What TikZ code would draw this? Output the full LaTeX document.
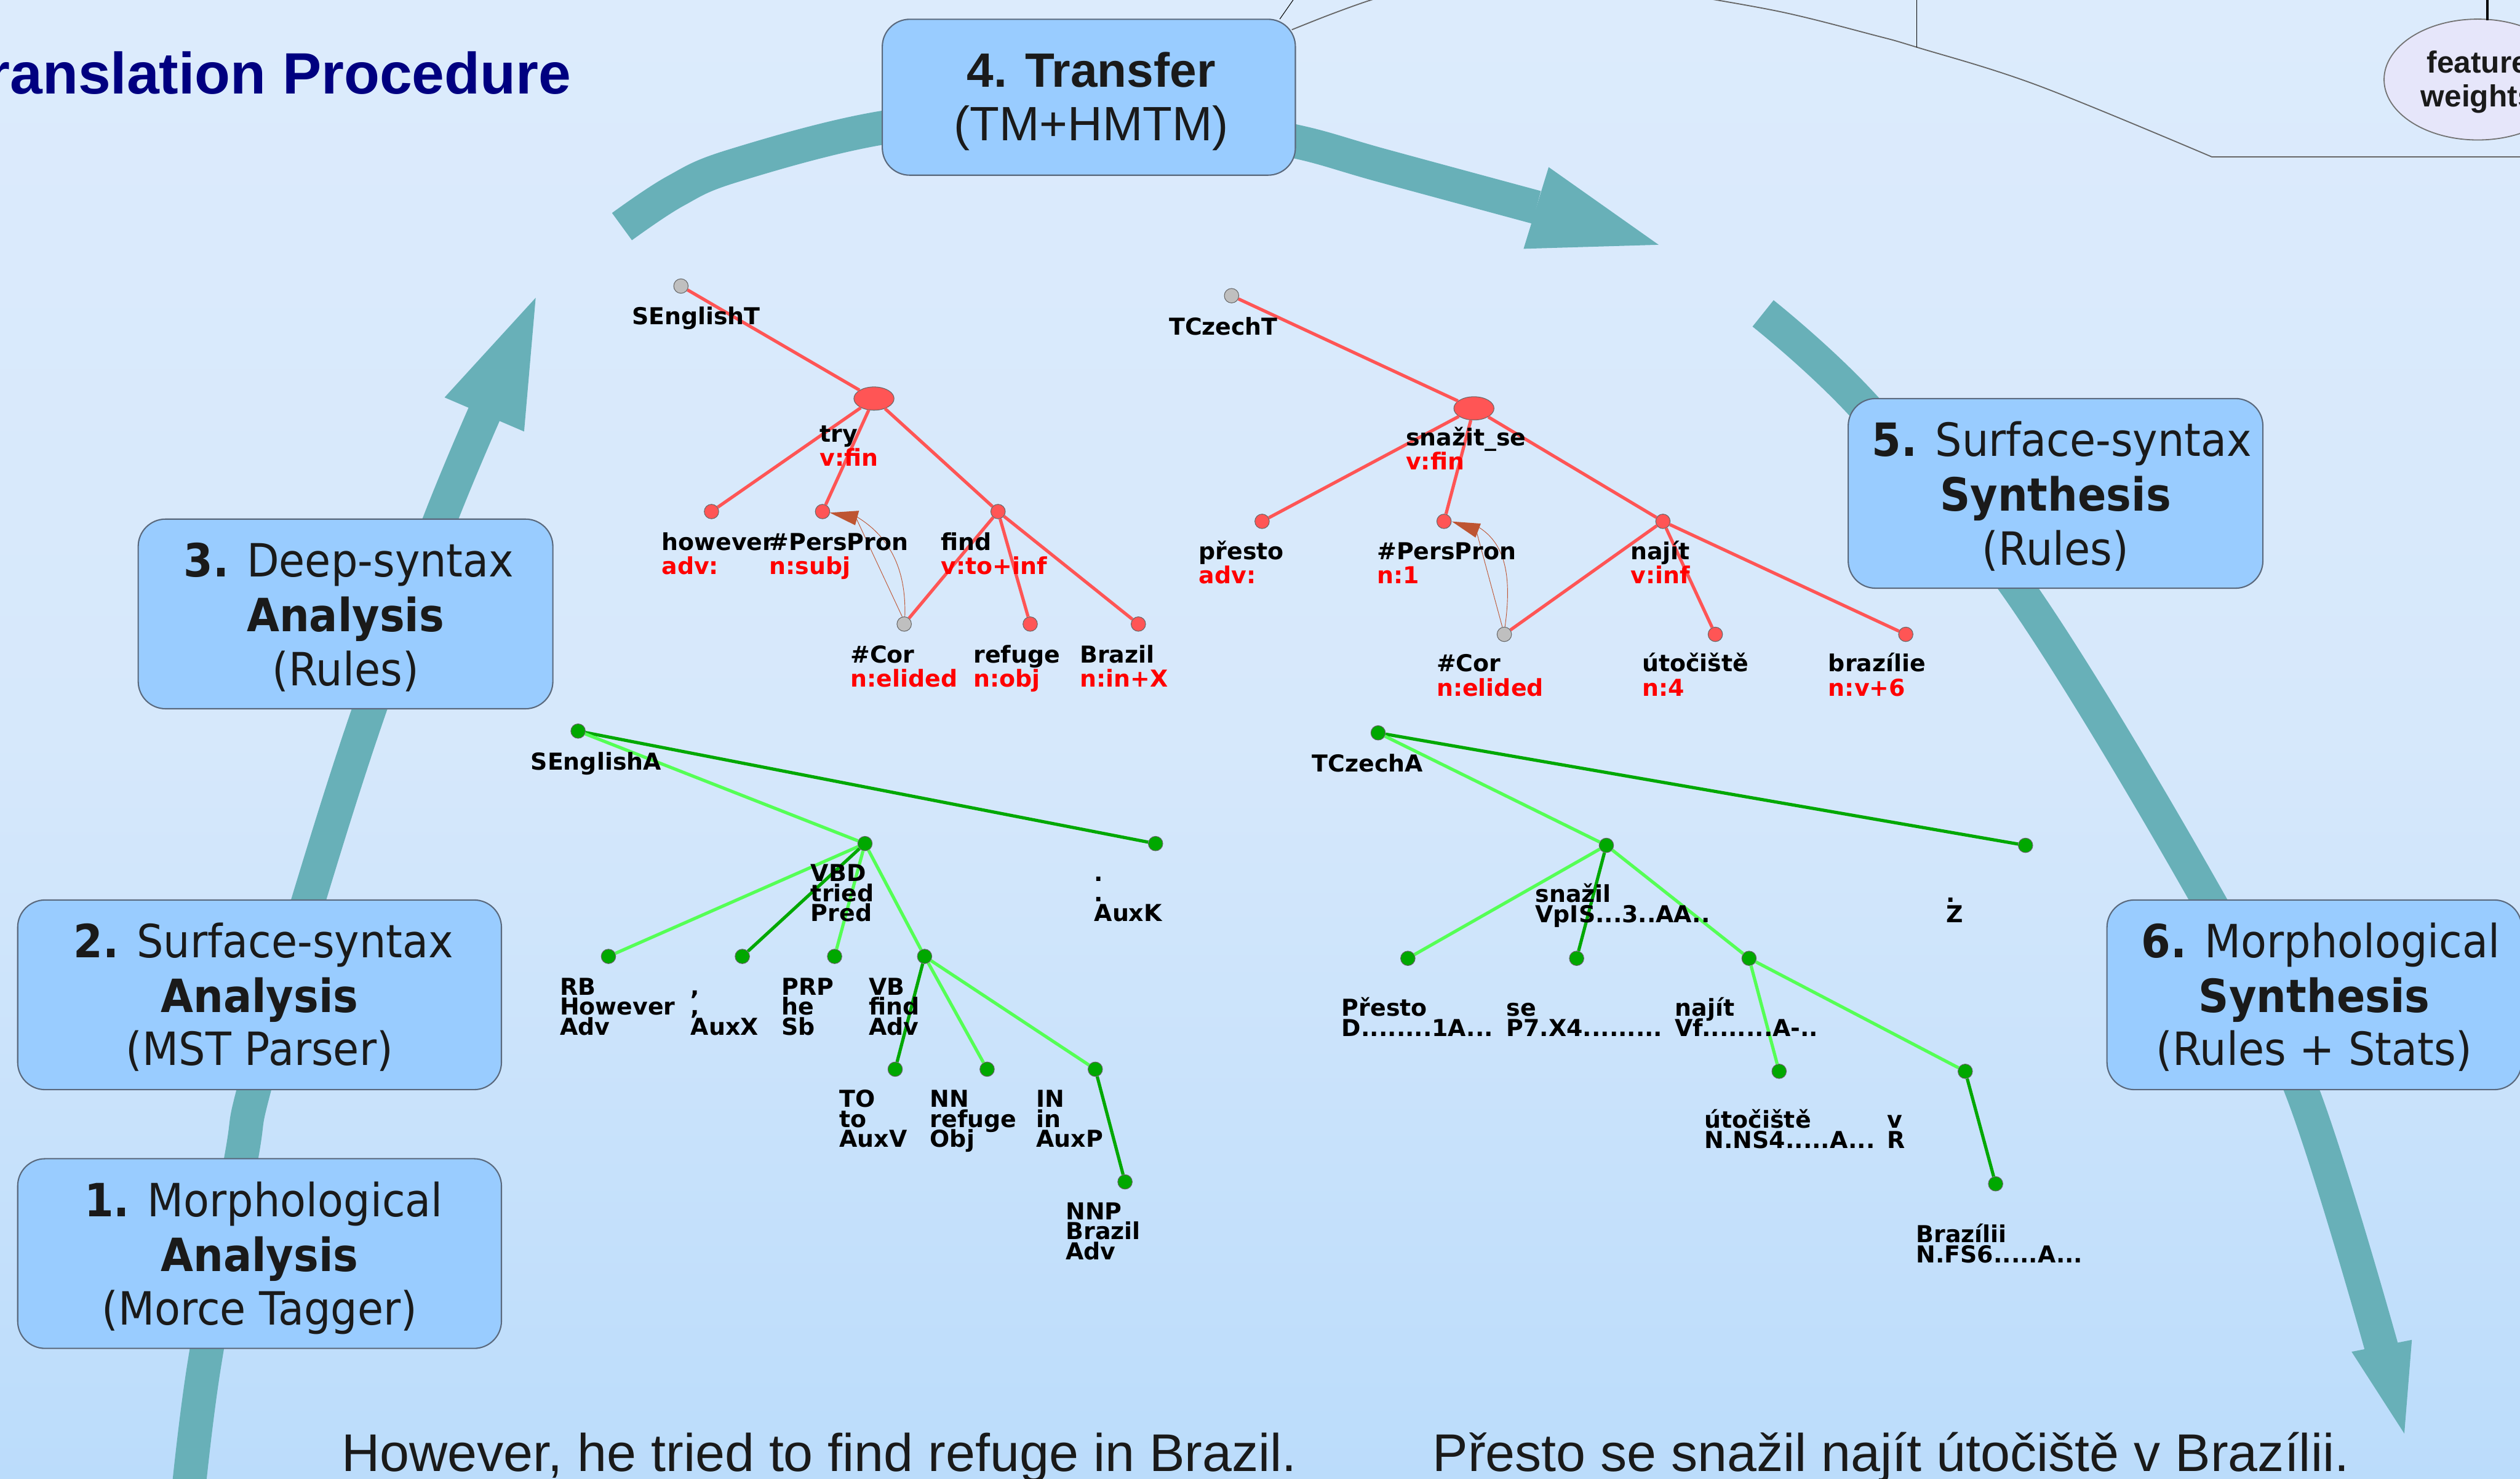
\documentclass[tikz,border=0pt]{standalone}
\usepackage{fontspec}
\usetikzlibrary{shapes.geometric}
\newfontfamily\treefont{DejaVu Sans}
\newfontfamily\boxfont[FakeStretch=0.92]{DejaVu Sans}
\newfontfamily\arialfont{Liberation Sans}
\definecolor{bgtop}{RGB}{220,235,252}
\definecolor{bgmid}{RGB}{214,232,251}
\definecolor{bgbot}{RGB}{187,220,251}
\definecolor{teal0}{RGB}{104,176,184}
\definecolor{boxfill}{RGB}{153,204,255}
\definecolor{boxline}{RGB}{90,105,125}
\definecolor{boxtext}{RGB}{26,26,26}
\definecolor{navy0}{RGB}{0,0,128}
\definecolor{tred}{RGB}{255,85,85}
\definecolor{lred}{RGB}{255,0,0}
\definecolor{dgreen}{RGB}{0,168,0}
\definecolor{lgreen}{RGB}{85,255,85}
\definecolor{corefc}{RGB}{190,85,50}
\definecolor{lavender0}{RGB}{230,230,250}
\newcommand\TLab[5]{\node[tlab] (#1a) at (#2,#3) {#4}; \node[tlabr] (#1b) at (#2,#3+15) {#5};}
\newcommand\ALab[6]{\node[alab] (#1a) at (#2,#3) {#4}; \node[alab] (#1b) at (#2,#3+12.4) {#5}; \node[alab] (#1c) at (#2,#3+24.8) {#6};}
\newcommand\CLab[5]{\node[alab] (#1a) at (#2,#3) {#4}; \node[alab] (#1b) at (#2,#3+12.6) {#5};}
\begin{document}
\begin{tikzpicture}[x=1pt,y=-1pt,
  boxshape/.style={draw=boxline, fill=boxfill, line width=0.8pt, rounded corners=17pt, inner sep=0pt},
  boxtxt/.style={anchor=base, inner sep=0pt, text=boxtext, font=\boxfont\fontsize{28.5pt}{34pt}\selectfont},
  arialtxt/.style={anchor=base, inner sep=0pt, text=boxtext, font=\arialfont\fontsize{30pt}{34pt}\selectfont},
  bigarrow/.style={draw=teal0, line width=21pt, line cap=butt},
  tdot/.style={circle, minimum size=9pt, inner sep=0pt, fill=tred, draw=black!60, line width=0.4pt},
  tgrey/.style={circle, minimum size=9pt, inner sep=0pt, fill=black!25, draw=black!60, line width=0.4pt},
  tellip/.style={ellipse, minimum width=25pt, minimum height=14.5pt, inner sep=0pt, fill=tred, draw=black!60, line width=0.4pt},
  adot/.style={circle, minimum size=9pt, inner sep=0pt, fill=dgreen, draw=black!60, line width=0.4pt},
  tedge/.style={draw=tred, line width=2pt},
  aedged/.style={draw=dgreen, line width=2pt},
  aedgel/.style={draw=lgreen, line width=2pt},
  coref/.style={draw=corefc, line width=0.35pt},
  tlab/.style={anchor=base west, inner sep=0pt, text=black, font=\treefont\bfseries\fontsize{14.5pt}{14.5pt}\selectfont},
  tlabr/.style={tlab, text=lred},
  alab/.style={tlab}
]
\useasboundingbox (0,0) rectangle (1568,920);
\clip (0,0) rectangle (1568,920);
\shade[top color=bgtop, bottom color=bgbot, middle color=bgmid] (0,0) rectangle (1568,920);

% ---- top right fragments ----
\draw[black!60, line width=0.7pt] plot[smooth, tension=0.6] coordinates {(803.8,18.5) (826.5,9.5) (850,1) (870,-5)};
\draw[black!60, line width=0.7pt] plot[smooth, tension=0.6] coordinates {(1050,-3) (1109.2,7.6) (1165.8,21.8) (1192.7,29.4) (1267.8,53.1) (1376.2,97.6)} -- (1570,97.6);
\draw[black, line width=0.4pt] (796.3,11.9) -- (805.3,-1);
\draw[black, line width=0.4pt] (1192.7,-1) -- (1192.7,29.4);
\node[ellipse, draw=black!55, fill=lavender0, line width=0.7pt, minimum width=116.6pt, minimum height=75.2pt, inner sep=0pt] (fw) at (1541.7,49.5) {};
\coordinate (fwa) at (1547.6,12.6);
\coordinate (fwb) at (1547.6,-2);
\draw[black, line width=1.6pt] (fwa) -- (fwb);
\node[anchor=base, inner sep=0pt, text=boxtext, font=\arialfont\bfseries\fontsize{19pt}{21pt}\selectfont] (fw1) at (1541.7,45.3) {feature};
\node[anchor=base, inner sep=0pt, text=boxtext, font=\arialfont\bfseries\fontsize{19pt}{21pt}\selectfont] (fw2) at (1541.7,66.4) {weights};

% ---- big teal arrows ----
\draw[bigarrow] plot[smooth, tension=0.6] coordinates {(116,940) (126.5,853) (150,721) (158,678) (192,560) (230,441) (274,323) (302,256)};
\fill[teal0] (276.6,247.3) -- (333.3,185.3) -- (326.1,268.5) -- cycle;
\draw[bigarrow] plot[smooth, tension=0.6] coordinates {(387,141) (420,119) (456.7,103) (549,79.5) (650,71) (740,77) (806,88) (860,103) (956,129)};
\fill[teal0] (963.6,104) -- (1032,152.3) -- (948,154.8) -- cycle;
\draw[bigarrow] plot[smooth, tension=0.6] coordinates {(1097,195) (1158,251) (1256,366.5) (1374,560) (1432,678) (1482,839)};
\fill[teal0] (1463.2,841.1) -- (1496,892) -- (1500.7,833.7) -- cycle;

% ---- boxes ----
\node[boxshape, minimum width=257pt, minimum height=97pt] (b4) at (677.5,60.5) {};
\node[arialtxt] (b4a) at (679,54) {\bfseries 4. Transfer};
\node[arialtxt] (b4b) at (679,87.6) {(TM+HMTM)};

\node[boxshape, minimum width=258pt, minimum height=118pt] (b3) at (215,382) {};
\node[boxtxt] (b3a) at (217,359) {\bfseries 3.\mdseries{} Deep-syntax};
\node[boxtxt] (b3b) at (215,393) {\bfseries Analysis};
\node[boxtxt] (b3c) at (215,426.5) {(Rules)};

\node[boxshape, minimum width=301pt, minimum height=118pt] (b2) at (161.5,619) {};
\node[boxtxt] (b2a) at (164,596) {\bfseries 2.\mdseries{} Surface-syntax};
\node[boxtxt] (b2b) at (161.5,630) {\bfseries Analysis};
\node[boxtxt] (b2c) at (161.5,663) {(MST Parser)};

\node[boxshape, minimum width=301pt, minimum height=118pt] (b1) at (161.5,780) {};
\node[boxtxt] (b1a) at (164,757) {\bfseries 1.\mdseries{} Morphological};
\node[boxtxt] (b1b) at (161.5,791) {\bfseries Analysis};
\node[boxtxt] (b1c) at (161.5,824.5) {(Morce Tagger)};

\node[boxshape, minimum width=258pt, minimum height=118pt] (b5) at (1279,307) {};
\node[boxtxt] (b5a) at (1283,284) {\bfseries 5.\mdseries{} Surface-syntax};
\node[boxtxt] (b5b) at (1279,318) {\bfseries Synthesis};
\node[boxtxt] (b5c) at (1279,351.5) {(Rules)};

\node[boxshape, minimum width=258pt, minimum height=118pt] (b6) at (1440,619) {};
\node[boxtxt] (b6a) at (1444,596) {\bfseries 6.\mdseries{} Morphological};
\node[boxtxt] (b6b) at (1440,630) {\bfseries Synthesis};
\node[boxtxt] (b6c) at (1440,663) {(Rules + Stats)};

% ---- title ----
\node[anchor=base east, inner sep=0pt, text=navy0, font=\arialfont\bfseries\fontsize{36.3pt}{40pt}\selectfont] (title) at (355.5,58.3) {Translation Procedure};

% ---- English tectogrammatical tree ----
\node[tgrey] (eT) at (423.7,178) {};
\node[tellip] (eTtry) at (543.8,248) {};
\node[tdot] (eThow) at (442.7,318.3) {};
\node[tdot] (eTpp) at (511.8,318.3) {};
\node[tdot] (eTfind) at (621,318.3) {};
\node[tgrey] (eTcor) at (562.6,388.3) {};
\node[tdot] (eTref) at (641,388.3) {};
\node[tdot] (eTbra) at (708.3,388.3) {};
\draw[tedge] (eT) -- (eTtry);
\draw[tedge] (eTtry) -- (eThow);
\draw[tedge] (eTtry) -- (eTpp);
\draw[tedge] (eTtry) -- (eTfind);
\draw[tedge] (eTfind) -- (eTcor);
\draw[tedge] (eTfind) -- (eTref);
\draw[tedge] (eTfind) -- (eTbra);
\coordinate (eCa) at (533,323);
\coordinate (eCb) at (533,321.5);
\draw[coref] (eTcor.105) -- (eCa);
\draw[coref] (eTcor.85) .. controls (564,352) and (552,333) .. (eCb);
\fill[corefc] (516.3,319) -- (534.5,317.8) -- (532.1,326.8) -- cycle;
\node[tlab] (eTroot) at (393,202) {SEnglishT};
\TLab{eTl1}{510}{275}{try}{v:fin}
\TLab{eTl2}{411.5}{342.5}{however}{adv:}
\TLab{eTl3}{478.5}{342.5}{\#PersPron}{n:subj}
\TLab{eTl4}{585.4}{342.5}{find}{v:to+inf}
\TLab{eTl5}{529}{412.4}{\#Cor}{n:elided}
\TLab{eTl6}{605.6}{412.4}{refuge}{n:obj}
\TLab{eTl7}{671.7}{412.4}{Brazil}{n:in+X}

% ---- Czech tectogrammatical tree ----
\node[tgrey] (cT) at (766.3,184) {};
\node[tellip] (cTsna) at (917.1,254.1) {};
\node[tdot] (cTpre) at (785.3,324.4) {};
\node[tdot] (cTpp) at (898.5,324.4) {};
\node[tdot] (cTnaj) at (1034.7,324.4) {};
\node[tgrey] (cTcor) at (936,394.7) {};
\node[tdot] (cTuto) at (1067.3,394.7) {};
\node[tdot] (cTbra) at (1185.8,394.7) {};
\draw[tedge] (cT) -- (cTsna);
\draw[tedge] (cTsna) -- (cTpre);
\draw[tedge] (cTsna) -- (cTpp);
\draw[tedge] (cTsna) -- (cTnaj);
\draw[tedge] (cTnaj) -- (cTcor);
\draw[tedge] (cTnaj) -- (cTuto);
\draw[tedge] (cTnaj) -- (cTbra);
\coordinate (cCa) at (918.5,330);
\coordinate (cCb) at (920,328);
\draw[coref] (cTcor.105) -- (cCa);
\draw[coref] (cTcor.85) .. controls (941,357) and (936,338) .. (cCb);
\fill[corefc] (903.4,324.5) -- (921.4,325.8) -- (918.1,334.5) -- cycle;
\node[tlab] (cTroot) at (727.2,208.4) {TCzechT};
\TLab{cTl1}{874.6}{277.3}{snažit\_se}{v:fin}
\TLab{cTl2}{745.8}{348}{přesto}{adv:}
\TLab{cTl3}{856.7}{348}{\#PersPron}{n:1}
\TLab{cTl4}{1014.4}{348}{najít}{v:inf}
\TLab{cTl5}{893.7}{418}{\#Cor}{n:elided}
\TLab{cTl6}{1021.6}{418}{útočiště}{n:4}
\TLab{cTl7}{1137.5}{418}{brazílie}{n:v+6}

% ---- English analytical tree ----
\node[adot] (eA) at (359.7,454.9) {};
\node[adot] (eAtried) at (538.2,524.9) {};
\node[adot] (eAdot) at (719,524.9) {};
\node[adot] (eAhow) at (378.6,595.1) {};
\node[adot] (eAcom) at (461.9,595.1) {};
\node[adot] (eAhe) at (519.3,595.1) {};
\node[adot] (eAfind) at (575.3,595.1) {};
\node[adot] (eAto) at (557,665.3) {};
\node[adot] (eAref) at (614.2,665.3) {};
\node[adot] (eAin) at (681.5,665.3) {};
\node[adot] (eAbra) at (700,735.4) {};
\draw[aedged] (eA) -- (eAdot);
\draw[aedgel] (eA) -- (eAtried);
\draw[aedgel] (eAtried) -- (eAhow);
\draw[aedged] (eAtried) -- (eAcom);
\draw[aedgel] (eAtried) -- (eAhe);
\draw[aedgel] (eAtried) -- (eAfind);
\draw[aedged] (eAfind) -- (eAto);
\draw[aedgel] (eAfind) -- (eAref);
\draw[aedgel] (eAfind) -- (eAin);
\draw[aedged] (eAin) -- (eAbra);
\node[alab] (eAroot) at (330.1,479.1) {SEnglishA};
\ALab{eAl1}{504.3}{548.5}{VBD}{tried}{Pred}
\ALab{eAl2}{680.7}{548.5}{.}{.}{AuxK}
\ALab{eAl3}{348.2}{619.2}{RB}{However}{Adv}
\ALab{eAl4}{429.6}{619.2}{,}{,}{AuxX}
\ALab{eAl5}{486.2}{619.2}{PRP}{he}{Sb}
\ALab{eAl6}{540.5}{619.2}{VB}{find}{Adv}
\ALab{eAl7}{522.2}{689}{TO}{to}{AuxV}
\ALab{eAl8}{578.5}{689}{NN}{refuge}{Obj}
\ALab{eAl9}{644.6}{689}{IN}{in}{AuxP}
\ALab{eAl10}{663}{758.9}{NNP}{Brazil}{Adv}

% ---- Czech analytical tree ----
\node[adot] (cA) at (857.5,456) {};
\node[adot] (cAsna) at (999.5,526) {};
\node[adot] (cAz) at (1260.3,526) {};
\node[adot] (cApre) at (876,596.3) {};
\node[adot] (cAse) at (981,596.3) {};
\node[adot] (cAnaj) at (1088.3,596.3) {};
\node[adot] (cAuto) at (1107,666.6) {};
\node[adot] (cAv) at (1222.8,666.6) {};
\node[adot] (cAbra) at (1241.7,736.6) {};
\draw[aedged] (cA) -- (cAz);
\draw[aedgel] (cA) -- (cAsna);
\draw[aedgel] (cAsna) -- (cApre);
\draw[aedged] (cAsna) -- (cAse);
\draw[aedgel] (cAsna) -- (cAnaj);
\draw[aedgel] (cAnaj) -- (cAuto);
\draw[aedgel] (cAnaj) -- (cAv);
\draw[aedged] (cAv) -- (cAbra);
\node[alab] (cAroot) at (816.3,480.3) {TCzechA};
\CLab{cAl1}{955.1}{561.4}{snažil}{VpIS...3..AA..}
\CLab{cAl2}{1211}{561.4}{.}{Z}
\CLab{cAl3}{834.7}{632.2}{Přesto}{D........1A...}
\CLab{cAl4}{937.2}{632.2}{se}{P7.X4.........}
\CLab{cAl5}{1042}{632.2}{najít}{Vf........A-..}
\CLab{cAl6}{1060.5}{702}{útočiště}{N.NS4.....A...}
\CLab{cAl7}{1174.2}{702}{v}{R}
\CLab{cAl8}{1192.1}{773.1}{Brazílii}{N.FS6.....A...}

% ---- sentences ----
\node[anchor=base west, inner sep=0pt, text=boxtext, font=\arialfont\fontsize{33pt}{38pt}\selectfont] (sen1) at (212.4,915.3) {However, he tried to find refuge in Brazil.};
\node[anchor=base west, inner sep=0pt, text=boxtext, font=\arialfont\fontsize{33pt}{38pt}\selectfont] (sen2) at (891.2,915.3) {Přesto se snažil najít útočiště v Brazílii.};
\end{tikzpicture}
\end{document}
